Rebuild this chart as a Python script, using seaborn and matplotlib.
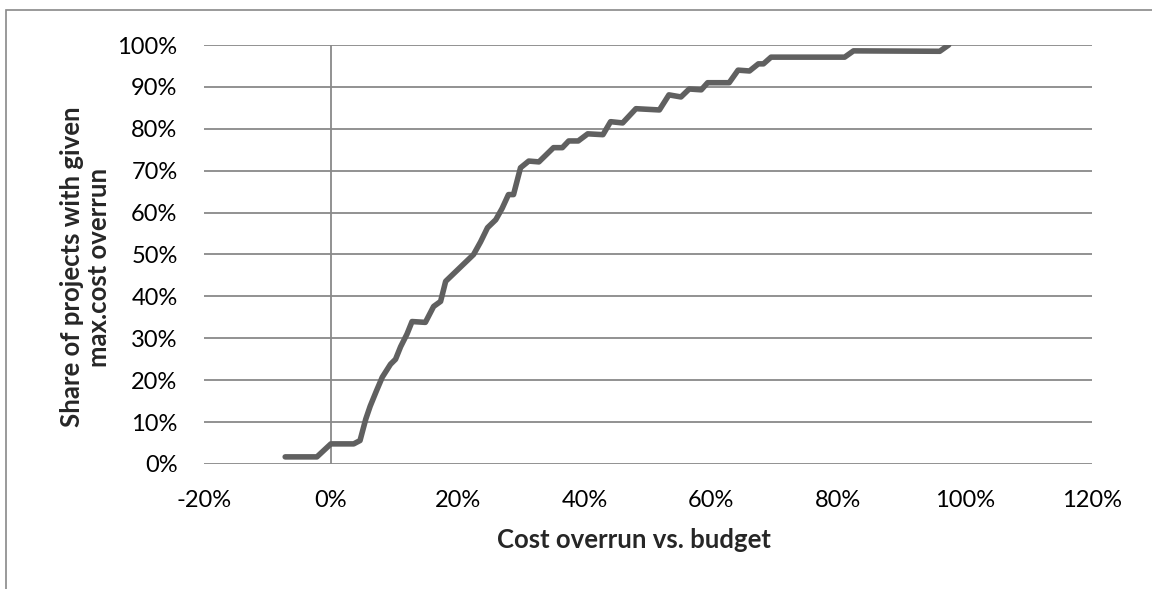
import matplotlib
matplotlib.use("Agg")
import matplotlib.pyplot as plt
import pandas as pd
import seaborn as sns
from matplotlib.patches import Rectangle
from matplotlib.ticker import MultipleLocator, FuncFormatter

# cost overrun (%) vs. share of projects (%)
overrun = [-7.2, -2.2, 0.0, 3.6, 4.6, 5.5, 6.2, 7.2, 8.1, 9.4, 10.2, 11.0, 12.0, 12.8,
           14.9, 16.2, 17.3, 18.1, 20.3, 22.5, 23.6, 24.7, 26.0, 27.0, 28.0, 28.8,
           29.9, 31.2, 32.8, 35.1, 36.5, 37.5, 39.0, 40.5, 42.9, 44.1, 46.0, 48.1,
           51.8, 53.3, 55.2, 56.5, 58.4, 59.4, 62.8, 64.2, 66.0, 67.4, 68.2, 69.4,
           81.0, 82.4, 96.0, 97.4]
share = [1.7, 1.7, 4.8, 4.8, 5.6, 10.7, 13.8, 17.5, 20.7, 23.8, 25.0, 28.0, 31.0, 34.0,
         33.8, 37.6, 38.8, 43.6, 46.8, 50.0, 53.0, 56.4, 58.3, 61.0, 64.3, 64.3,
         70.7, 72.3, 72.1, 75.5, 75.5, 77.1, 77.1, 78.8, 78.6, 81.7, 81.4, 84.8,
         84.5, 88.1, 87.6, 89.5, 89.3, 91.0, 91.0, 94.0, 93.8, 95.5, 95.5, 97.1,
         97.1, 98.6, 98.5, 100.0]

df = pd.DataFrame({"overrun": overrun, "share": share})

sns.set_theme(style="white")
plt.rcParams["font.family"] = ["Lato", "DejaVu Sans"]

grid_col = "#898989"
fig = plt.figure(figsize=(11.52, 5.89), dpi=100)
ax = fig.add_axes([204 / 1152, 1 - 464 / 589, 888 / 1152, 419 / 589])

for v in range(10, 101, 10):
    ax.axhline(v, color=grid_col, lw=1.3, zorder=1)
ax.axhline(0, color=grid_col, lw=1.3, zorder=1)
ax.axvline(0, color=grid_col, lw=1.3, zorder=1)

sns.lineplot(data=df, x="overrun", y="share", color="#606060", lw=4.0,
             ax=ax, zorder=3, sort=False)
for l in ax.lines:
    l.set_solid_joinstyle("round")
    l.set_solid_capstyle("round")

ax.set_xlim(-20, 120)
ax.set_ylim(0, 100)
ax.xaxis.set_major_locator(MultipleLocator(20))
ax.yaxis.set_major_locator(MultipleLocator(10))
pct = FuncFormatter(lambda v, p: f"{v:.0f}%")
ax.xaxis.set_major_formatter(pct)
ax.yaxis.set_major_formatter(pct)
ax.tick_params(axis="both", length=0, labelsize=17, pad=19, colors="black")
for s in ax.spines.values():
    s.set_visible(False)

ax.set_xlabel("")
ax.set_ylabel("")
ax.text(0.484, -0.181, "Cost overrun vs. budget", transform=ax.transAxes,
        ha="center", va="center", fontsize=18.5, fontweight="bold")
ax.text(-0.134, 0.47, "Share of projects with given\nmax.cost overrun", transform=ax.transAxes,
        ha="center", va="center", rotation=90, fontsize=18.5, fontweight="bold",
        multialignment="center", linespacing=1.15)

# chart-area border (only top/left visible in the reference)
fig.patches.append(Rectangle((6 / 1152, -0.1), 1.2, 1.1 - 10 / 589,
                             transform=fig.transFigure, fill=False,
                             edgecolor=grid_col, lw=1.2))

fig.savefig("out.png", dpi=100)
